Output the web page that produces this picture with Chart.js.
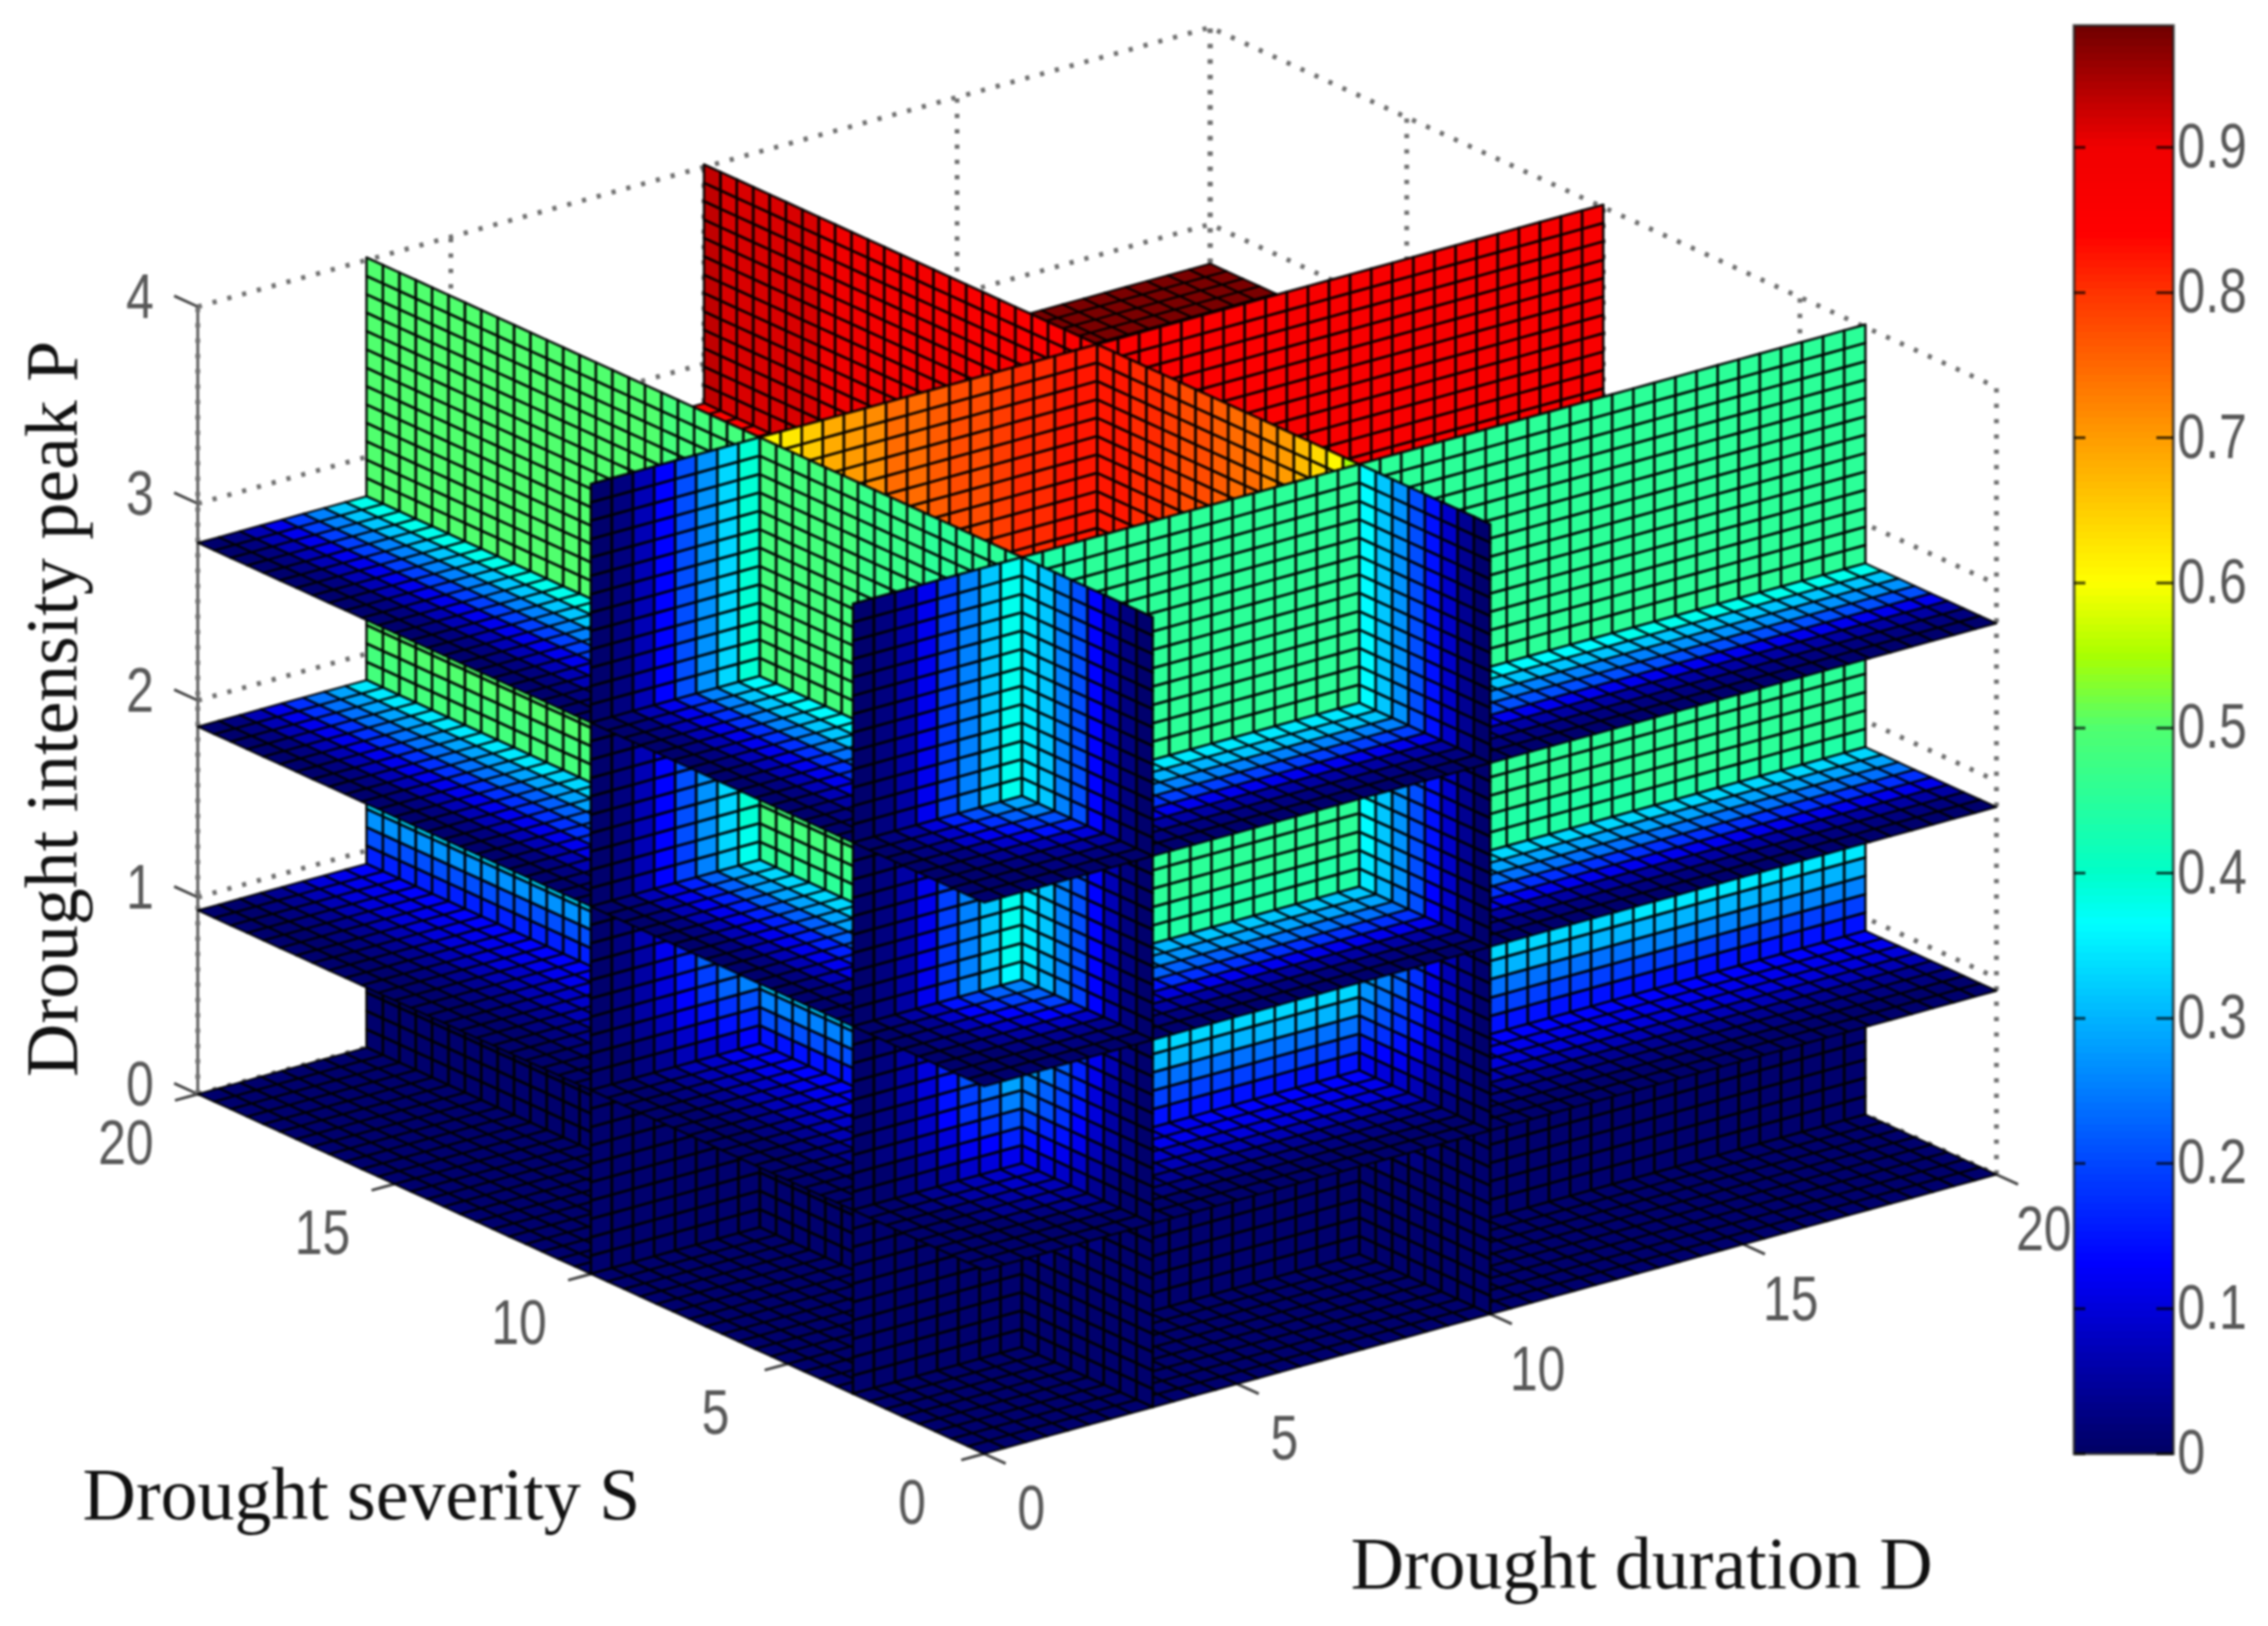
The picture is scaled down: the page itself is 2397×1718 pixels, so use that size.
<!DOCTYPE html>
<html>
<head>
<meta charset="utf-8">
<title>Drought joint probability slices</title>
<script src="https://cdn.jsdelivr.net/npm/chart.js@4"></script>
<style>
    html, body { margin: 0; background: #fff; }
    #wrap { position: relative; width: 2397px; height: 1718px; overflow: hidden; }
    canvas { position: absolute; top: 0; filter: blur(1.3px); }
    #sliceChart { left: 0; }
    #barChart { left: 2150px; }
</style>
</head>
<body>
<div id="wrap">
    <canvas id="sliceChart" width="2397" height="1718"></canvas>
    <canvas id="barChart" width="247" height="1718"></canvas>
</div>
<script>
// Axis ticks
const durationTicks = [0, 5, 10, 15, 20];
const severityTicks = [0, 5, 10, 15, 20];
const peakTicks = [0, 1, 2, 3, 4];
const colorTicks = [0, 0.1, 0.2, 0.3, 0.4, 0.5, 0.6, 0.7, 0.8, 0.9];

// Slices, as cell indexes of the 48 x 48 x 43 grid
const durationCuts = [8, 24];
const severityCuts = [8, 24];
const peakCuts = [0, 10, 20, 30];

// Colours along each wall at full height, one reading per cell
const wallSeverityLow = [
    .01, .03, .06, .12, .19, .26, .32, .38,
    .43, .44, .44, .45, .45, .45, .45, .45, .45, .45, .45, .45, .45, .45, .45, .45,
    .45, .45, .45, .45, .45, .45, .45, .45, .45, .45, .45, .45, .45, .46, .46, .46, .46, .46, .46, .46, .46, .46, .46, .46
];
const wallSeverityMid = [
    .01, .03, .07, .13, .20, .27, .33, .39,
    .60, .63, .66, .68, .70, .72, .74, .75, .76, .77, .78, .79, .80, .81, .82, .83,
    .86, .86, .86, .86, .86, .86, .86, .86, .86, .87, .87, .87, .87, .87, .87, .87, .87, .87, .87, .87, .87, .87, .87, .87
];
const wallDurationLow = [
    .01, .03, .07, .13, .20, .26, .31, .35,
    .44, .45, .45, .46, .46, .46, .47, .47, .47, .47, .48, .48, .48, .48, .48, .48,
    .49, .49, .49, .49, .49, .49, .50, .50, .50, .50, .50, .50, .50, .50, .50, .50, .50, .50, .50, .50, .50, .50, .50, .50
];
const wallDurationMid = [
    .01, .04, .08, .14, .21, .27, .32, .36,
    .54, .60, .64, .67, .70, .72, .74, .75, .76, .77, .78, .79, .80, .81, .82, .83,
    .84, .85, .85, .86, .86, .87, .87, .87, .88, .88, .88, .89, .89, .89, .90, .90, .90, .91, .91, .91, .92, .92, .92, .93
];

// Share of the wall colour kept in each row, bottom to top
const heightShare = [
    .005, .01, .015, .02, .03, .05, .08, .12, .18, .24,
    .32, .42, .54, .66, .74, .80, .84, .88, .91, .94,
    .96, .98, 1, 1, 1, 1, 1, 1, 1, 1,
    1, 1, 1, 1, 1, 1, 1, 1, 1, 1, 1, 1, 1
];

// Horizontal slices: readings at these cell indexes, rows by severity, columns by duration
const planeNodes = [0, 1, 2, 3, 4, 5, 6, 7, 8, 12, 16, 24, 36];
const planeLevels = [0, .36, .9, 1];
const planeTable = [
    [.00, .00, .00, .00, .01, .01, .01, .01, .01, .01, .01, .01, .01],
    [.00, .00, .01, .01, .02, .02, .02, .03, .03, .03, .03, .03, .03],
    [.00, .01, .01, .02, .03, .04, .05, .05, .06, .06, .06, .06, .06],
    [.00, .01, .02, .04, .06, .07, .09, .10, .11, .12, .12, .12, .12],
    [.01, .02, .03, .06, .09, .11, .14, .16, .17, .19, .19, .20, .20],
    [.01, .02, .04, .08, .12, .15, .18, .21, .23, .25, .26, .26, .27],
    [.01, .03, .05, .09, .14, .18, .22, .25, .27, .30, .31, .32, .32],
    [.01, .03, .06, .10, .16, .21, .25, .28, .30, .34, .35, .36, .37],
    [.01, .03, .06, .11, .17, .23, .27, .31, .34, .38, .40, .41, .41],
    [.01, .03, .07, .12, .18, .24, .30, .35, .38, .55, .62, .65, .66],
    [.01, .03, .07, .12, .18, .25, .31, .36, .40, .60, .72, .75, .76],
    [.01, .03, .07, .12, .19, .25, .32, .37, .42, .65, .80, .95, .96],
    [.01, .03, .07, .12, .19, .26, .32, .38, .44, .68, .84, .97, .985]
];

// Colormap
const colorStops = [0, .06, .13, .2, .3, .365, .4, .5, .55, .6, .7, .8, .84, .9, .984];
const colorValues = [
    [0, 0, 100], [0, 0, 170], [0, 0, 255], [0, 70, 255], [0, 180, 255],
    [0, 255, 255], [0, 255, 200], [80, 255, 110], [170, 255, 0], [255, 255, 0],
    [255, 155, 0], [255, 50, 0], [255, 0, 0], [240, 0, 0], [110, 0, 0]
];
const colorMax = .984;
const cellLevels = 64;
const barLevels = 200;

const cellWidth = 20 / 48;
const cellHeight = 2.8 / 30;

function project(d, s, p) {
    return {
        x: 1040 + 53.5 * d - 41.55 * s,
        y: 1536 - 14.75 * d - 19 * s - 208 * p
    };
}

function mapColor(v, levels) {
    const level = Math.min(levels - 1, Math.floor(Math.max(v, 0) / colorMax * levels));
    const t = (level + 0.5) / levels * colorMax;
    let i = 0;
    while (i < colorStops.length - 2 && t > colorStops[i + 1]) i++;
    const f = (t - colorStops[i]) / (colorStops[i + 1] - colorStops[i]);
    const rgb = colorValues[i].map((c, k) => Math.round(c + (colorValues[i + 1][k] - c) * f));
    return `rgb(${rgb[0]},${rgb[1]},${rgb[2]})`;
}

function nodeIndex(i) {
    let n = 0;
    while (n < planeNodes.length - 1 && planeNodes[n + 1] <= i) n++;
    return n;
}

function makeCell(a, b, c, e, v) {
    return {
        x: (a.x + c.x) / 2,
        y: (a.y + c.y) / 2,
        corners: [a, b, c, e],
        color: mapColor(v, cellLevels)
    };
}

function pieceDataset(cells, lineWidth) {
    return { type: 'scatter', data: cells, pointRadius: 0, isCells: true, cellLine: lineWidth };
}

function planePiece(k, d0, d1, s0, s1) {
    const p = peakCuts[k] * cellHeight;
    const cells = [];
    for (let i = d0; i < d1; i++) {
        for (let j = s0; j < s1; j++) {
            const v = planeTable[nodeIndex(j)][nodeIndex(i)] * planeLevels[k];
            cells.push(makeCell(
                project(i * cellWidth, j * cellWidth, p),
                project((i + 1) * cellWidth, j * cellWidth, p),
                project((i + 1) * cellWidth, (j + 1) * cellWidth, p),
                project(i * cellWidth, (j + 1) * cellWidth, p),
                v
            ));
        }
    }
    return pieceDataset(cells, 2.2);
}

function severityWall(cut, profile, d0, d1) {
    const s = cut * cellWidth;
    const cells = [];
    for (let i = d0; i < d1; i++) {
        heightShare.forEach((share, r) => {
            cells.push(makeCell(
                project(i * cellWidth, s, r * cellHeight),
                project((i + 1) * cellWidth, s, r * cellHeight),
                project((i + 1) * cellWidth, s, (r + 1) * cellHeight),
                project(i * cellWidth, s, (r + 1) * cellHeight),
                profile[i] * share
            ));
        });
    }
    return pieceDataset(cells, 2.7);
}

function durationWall(cut, profile) {
    const d = cut * cellWidth;
    const cells = [];
    for (let j = 0; j < 48; j++) {
        heightShare.forEach((share, r) => {
            cells.push(makeCell(
                project(d, j * cellWidth, r * cellHeight),
                project(d, (j + 1) * cellWidth, r * cellHeight),
                project(d, (j + 1) * cellWidth, (r + 1) * cellHeight),
                project(d, j * cellWidth, (r + 1) * cellHeight),
                profile[j] * share
            ));
        });
    }
    return pieceDataset(cells, 2.7);
}

// Back to front order: far block first, then the wall that closes it
function buildSlices() {
    const pieces = [];
    const dEdges = [48, ...durationCuts.slice().reverse(), 0];
    const sEdges = [48, ...severityCuts.slice().reverse(), 0];
    const sProfiles = { 8: wallSeverityLow, 24: wallSeverityMid };
    const dProfiles = { 8: wallDurationLow, 24: wallDurationMid };

    for (let a = 0; a < dEdges.length - 1; a++) {
        const d1 = dEdges[a], d0 = dEdges[a + 1];
        for (let b = 0; b < sEdges.length - 1; b++) {
            const s1 = sEdges[b], s0 = sEdges[b + 1];
            peakCuts.forEach((cut, k) => pieces.push(planePiece(k, d0, d1, s0, s1)));
            if (s0 > 0) pieces.push(severityWall(s0, sProfiles[s0], d0, d1));
        }
        if (d0 > 0) pieces.push(durationWall(d0, dProfiles[d0]));
    }
    return pieces;
}

function lineDataset(points, color, width, dash) {
    return {
        type: 'scatter',
        data: points,
        showLine: true,
        pointRadius: 0,
        borderColor: color,
        borderWidth: width,
        borderDash: dash || []
    };
}

// Dotted box on the two back walls, then the solid axes and their ticks
function buildAxes() {
    const sets = [];
    const dotted = ['#707070', 5, [4.5, 11.7]];
    peakTicks.forEach(p => {
        sets.push(lineDataset([project(0, 20, p), project(20, 20, p), project(20, 0, p)], ...dotted));
    });
    durationTicks.forEach(d => {
        sets.push(lineDataset([project(d, 20, 0), project(d, 20, 4)], ...dotted));
    });
    severityTicks.forEach(s => {
        sets.push(lineDataset([project(20, s, 0), project(20, s, 4)], ...dotted));
    });

    sets.push(lineDataset([project(0, 20, 0), project(0, 20, 4)], '#5a5a5a', 3));
    peakTicks.forEach(p => {
        sets.push(lineDataset([project(0, 20, p), project(0, 20.6, p)], '#444', 3));
    });
    severityTicks.forEach(s => {
        sets.push(lineDataset([project(0, s, 0), project(-0.45, s, 0)], '#444', 3));
    });
    durationTicks.forEach(d => {
        sets.push(lineDataset([project(d, 0, 0), project(d, -0.55, 0)], '#444', 3));
    });
    return sets;
}

function drawNumber(ctx, text, x, y) {
    ctx.save();
    ctx.translate(x, y);
    ctx.scale(0.8, 1);
    ctx.font = '66px "Liberation Sans"';
    ctx.fillStyle = '#585858';
    ctx.textAlign = 'center';
    ctx.textBaseline = 'middle';
    ctx.fillText(text, 0, 0);
    ctx.restore();
}

function drawTitle(ctx, text, x, y, angle) {
    ctx.save();
    ctx.translate(x, y);
    ctx.rotate(angle);
    ctx.font = '78px "Liberation Serif"';
    ctx.fillStyle = '#111';
    ctx.textAlign = 'center';
    ctx.textBaseline = 'middle';
    ctx.fillText(text, 0, 0);
    ctx.restore();
}

const slicePlugin = {
    id: 'slicePlugin',
    afterDatasetsDraw(chart) {
        const ctx = chart.ctx;
        const xs = chart.scales.x;
        const ys = chart.scales.y;
        ctx.save();
        ctx.strokeStyle = 'rgba(0,0,0,0.9)';
        ctx.lineJoin = 'round';
        chart.data.datasets.forEach(ds => {
            if (!ds.isCells) return;
            ctx.lineWidth = ds.cellLine;
            ds.data.forEach(cell => {
                ctx.beginPath();
                cell.corners.forEach((c, i) => {
                    const px = xs.getPixelForValue(c.x);
                    const py = ys.getPixelForValue(c.y);
                    if (i === 0) ctx.moveTo(px, py);
                    else ctx.lineTo(px, py);
                });
                ctx.closePath();
                ctx.fillStyle = cell.color;
                ctx.fill();
                ctx.stroke();
            });
        });
        ctx.restore();

        // Tick labels sit at a fixed offset from their ticks
        peakTicks.forEach(p => {
            const c = project(0, 20, p);
            drawNumber(ctx, String(p), xs.getPixelForValue(c.x - 61), ys.getPixelForValue(c.y - 6));
        });
        severityTicks.forEach(s => {
            const c = project(0, s, 0);
            drawNumber(ctx, String(s), xs.getPixelForValue(c.x - 76), ys.getPixelForValue(c.y + 56));
        });
        durationTicks.forEach(d => {
            const c = project(d, 0, 0);
            drawNumber(ctx, String(d), xs.getPixelForValue(c.x + 50), ys.getPixelForValue(c.y + 62));
        });

        drawTitle(ctx, 'Drought severity S', 382, 1585, 0);
        drawTitle(ctx, 'Drought duration D', 1735, 1658, 0);
        drawTitle(ctx, 'Drought intensity peak P', 61, 749, -Math.PI / 2);
    }
};

new Chart(document.getElementById('sliceChart'), {
    type: 'scatter',
    data: { datasets: [...buildAxes(), ...buildSlices()] },
    plugins: [slicePlugin],
    options: {
        responsive: false,
        animation: false,
        events: [],
        layout: { padding: 0 },
        plugins: { legend: { display: false }, tooltip: { enabled: false } },
        scales: {
            x: { type: 'linear', display: false, min: 0, max: 2397 },
            y: { type: 'linear', display: false, min: 0, max: 1718, reverse: true }
        }
    }
});

// Colour bar
const bandDatasets = [];
for (let i = 0; i < barLevels; i++) {
    bandDatasets.push({
        data: [colorMax / barLevels],
        backgroundColor: mapColor((i + 0.5) / barLevels * colorMax, barLevels),
        borderWidth: 0,
        inflateAmount: 1,
        barPercentage: 1,
        categoryPercentage: 1
    });
}

const barPlugin = {
    id: 'barPlugin',
    afterDraw(chart) {
        const ctx = chart.ctx;
        const area = chart.chartArea;
        const y = chart.scales.y;
        ctx.save();
        ctx.strokeStyle = 'rgba(30,30,30,0.75)';
        ctx.lineWidth = 3;
        ctx.strokeRect(area.left, area.top, area.right - area.left, area.bottom - area.top);
        ctx.strokeStyle = 'rgba(0,0,0,0.7)';
        colorTicks.forEach(t => {
            const py = y.getPixelForValue(t);
            ctx.beginPath();
            ctx.moveTo(area.left, py);
            ctx.lineTo(area.left + 12, py);
            ctx.moveTo(area.right - 18, py);
            ctx.lineTo(area.right, py);
            ctx.stroke();
        });
        ctx.restore();
        colorTicks.forEach(t => {
            const py = y.getPixelForValue(t);
            const text = String(t);
            const w = text.length > 1 ? 36 : 14;
            drawNumber(ctx, text, area.right + 5 + w, py + 3);
        });
    }
};

new Chart(document.getElementById('barChart'), {
    type: 'bar',
    data: { labels: [''], datasets: bandDatasets },
    plugins: [barPlugin],
    options: {
        responsive: false,
        animation: false,
        events: [],
        layout: { padding: { left: 42, top: 27, bottom: 182, right: 100 } },
        plugins: { legend: { display: false }, tooltip: { enabled: false } },
        scales: {
            x: { stacked: true, display: false },
            y: { stacked: true, display: false, min: 0, max: colorMax }
        }
    }
});
</script>
</body>
</html>
